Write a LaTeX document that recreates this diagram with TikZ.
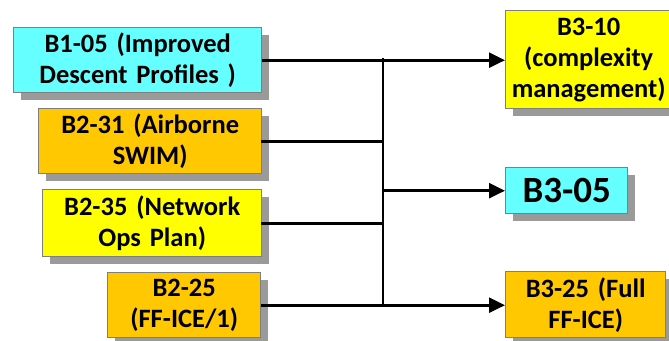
\documentclass[tikz,border=0pt]{standalone}
\usepackage{fontspec}
\setmainfont{Carlito}[WordSpace=0.75]
\usetikzlibrary{arrows.meta,shadows}
\definecolor{bcyan}{HTML}{66FFFF}
\definecolor{byellow}{HTML}{FFFF00}
\definecolor{borange}{HTML}{FFC800}
\definecolor{bborder}{HTML}{7F7F7F}
\definecolor{bshadow}{HTML}{9A9A9A}
\begin{document}
\begin{tikzpicture}[x=1pt,y=-1pt,
  box/.style={draw=bborder, line width=1.4pt, inner sep=0pt, anchor=north west,
    align=center, font=\fontsize{26.5}{31}\selectfont\bfseries,
    drop shadow={shadow xshift=7pt, shadow yshift=-7pt, fill=bshadow, opacity=1}},
  conn/.style={line width=2.6pt, line cap=rect},
  arr/.style={conn, line cap=butt, -{Triangle[length=16pt,width=15pt]}}]
\useasboundingbox (0,0) rectangle (669,340);
\node[box, fill=bcyan, minimum width=248pt, minimum height=65pt, text width=248pt] (b105) at (13,27) {B1-05 (Improved\\Descent Profiles )};
\node[box, fill=borange, minimum width=223pt, minimum height=65pt, text width=223pt] (b231) at (38,108) {B2-31 (Airborne\\SWIM)};
\node[box, fill=byellow, minimum width=219pt, minimum height=67pt, text width=219pt] (b235) at (42,189) {B2-35 (Network\\Ops Plan)};
\node[box, fill=borange, minimum width=153pt, minimum height=65pt, text width=153pt] (b225) at (107,272) {B2-25\\(FF-ICE/1)};
\node[box, fill=byellow, minimum width=166pt, minimum height=98pt, text width=166pt] (b310) at (505,10) {B3-10\\(complexity\\management)};
\node[box, fill=bcyan, minimum width=122pt, minimum height=46pt, text width=122pt, font=\fontsize{37}{40}\selectfont\bfseries] (b305) at (505,167) {B3-05};
\node[box, fill=borange, minimum width=160pt, minimum height=66pt, text width=160pt] (b325) at (505,271) {B3-25 (Full\\FF-ICE)};
\coordinate (j1) at (383,59.5);
\coordinate (j4) at (383,304.5);
\draw[arr] (b105.east) -- (b310.west |- b105.east);
\draw[conn] (j1) -- (j4);
\draw[conn] (b231.east) -- (b231.east -| j1);
\draw[conn] (b235.east) -- (b235.east -| j1);
\draw[arr] (j1 |- b305.west) -- (b305.west);
\draw[arr] (b225.east) -- (b325.west |- b225.east);
\end{tikzpicture}
\end{document}
